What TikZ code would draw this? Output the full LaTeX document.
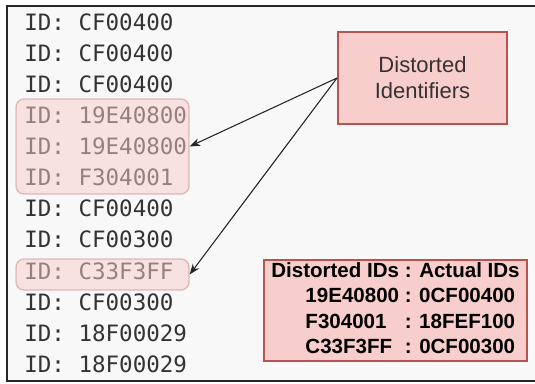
\documentclass[tikz,border=0pt]{standalone}
\usepackage{fontspec}
\setmainfont{Liberation Sans}
\newfontfamily\idmono{DejaVu Sans Mono}
\usetikzlibrary{arrows.meta,fit}
\definecolor{pinkfill}{HTML}{F8CECC}
\definecolor{pinkline}{HTML}{B85450}
\definecolor{framebg}{HTML}{F8F8F8}
\definecolor{idtext}{HTML}{333333}

\begin{document}
\begin{tikzpicture}[x=0.75pt, y=-0.75pt,
  idrow/.style={anchor=west, inner sep=0pt, text=idtext, font=\idmono\fontsize{16.9}{20}\selectfont},
  hlbox/.style={rounded corners=6pt, fill=pinkfill, fill opacity=0.5, draw=pinkline, draw opacity=0.35, line width=1pt, inner sep=0pt},
  redbox/.style={fill=pinkfill, draw=pinkline, line width=1.5pt},
  pointer/.style={draw=black!85, line width=0.8pt, -{Stealth[length=8pt,width=6pt]}}]
\useasboundingbox (0,0) rectangle (535,383);
\draw[line width=1.2pt, draw=black!85, fill=framebg] (7,6) rectangle (545,381);

% log lines
\foreach \id [count=\k] in {CF00400,CF00400,CF00400,19E40800,19E40800,F304001,CF00400,CF00300,C33F3FF,CF00300,18F00029,18F00029}
  \node[idrow] (row\k) at (24,{22+31.1*(\k-1)}) {ID: \id};

% marked lines
\node[hlbox, fit={(16,99) (189,194)}] (hl1) {};
\node[hlbox, fit={(16,259) (189,290)}] (hl2) {};

\node[redbox, minimum width=126.75pt, minimum height=69pt, align=center, text=idtext,
  font=\fontsize{16.5}{19.5}\selectfont] (distorted) at (422.5,78) {Distorted\\Identifiers};

\node[redbox, line width=1.1pt, minimum width=197.25pt, minimum height=75.75pt, inner sep=0pt,
  font=\bfseries\fontsize{15.4}{19}\selectfont] (actual) at (395.5,310.5) {%
  \begin{tabular}{@{}r@{ : }l@{}}
  Distorted IDs & Actual IDs\\
  19E40800 & 0CF00400\\
  \rlap{F304001}\hphantom{19E40800} & 18FEF100\\
  \rlap{C33F3FF}\hphantom{19E40800} & 0CF00300
  \end{tabular}};

\draw[pointer] (distorted.west) -- (hl1.east);
\draw[pointer] (distorted.west) -- (hl2.east);
%\draw[pointer] (distorted.west) -- (row9.east);
\end{tikzpicture}
\end{document}
